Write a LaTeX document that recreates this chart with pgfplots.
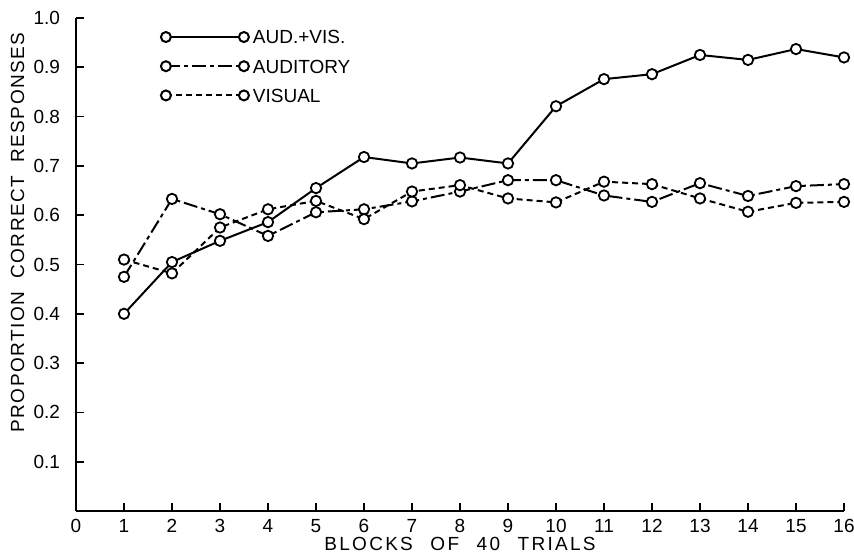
\documentclass[border=0pt]{standalone}
\usepackage{fontspec}
\setmainfont{Liberation Sans}
\usepackage{pgfplots}
\usepackage{pgfplotstable}
\pgfplotsset{compat=1.18}

% block, aud.+vis., auditory, visual
\pgfplotstableread{
x   audvis  aud    vis
1   0.400   0.475  0.510
2   0.505   0.633  0.482
3   0.548   0.602  0.575
4   0.586   0.558  0.612
5   0.655   0.606  0.629
6   0.718   0.612  0.592
7   0.705   0.628  0.648
8   0.717   0.648  0.661
9   0.705   0.671  0.634
10  0.821   0.671  0.626
11  0.876   0.640  0.668
12  0.886   0.627  0.663
13  0.925   0.665  0.634
14  0.915   0.639  0.607
15  0.937   0.659  0.625
16  0.920   0.663  0.627
}\datatable

\begin{document}
\begin{tikzpicture}[font=\fontsize{9.5}{11}\selectfont]
\begin{axis}[
    scale only axis,
    width=384pt, height=246.5pt,
    xmin=0, xmax=16, ymin=0, ymax=1,
    axis x line=bottom, axis y line=left,
    axis line style={-, line width=1pt},
    xtick={0,1,...,16},
    ytick={0.1,0.2,0.3,0.4,0.5,0.6,0.7,0.8,0.9,1.0},
    tick align=inside,
    major tick length=4pt,
    tick style={black, line width=0.8pt},
    /pgf/number format/assume math mode=true,
    yticklabel style={/pgf/number format/.cd, fixed, fixed zerofill, precision=1, /tikz/.cd, xshift=-4.5pt},
    xticklabel style={inner sep=0pt, text depth=0pt, yshift=-4pt},
    xlabel={\addfontfeature{LetterSpace=12}BLOCKS\hspace{5pt} OF\hspace{5pt} 40\hspace{5pt} TRIALS},
    xlabel style={at={(axis description cs:0.5,0)}, anchor=base, yshift=-19.6pt, inner sep=0pt},
    ylabel={\addfontfeature{LetterSpace=8}PROPORTION\hspace{3pt} CORRECT\hspace{3pt} RESPONSES},
    ylabel style={at={(axis description cs:-0.0674,0.565)}, anchor=base, rotate=0, inner sep=0pt},
    legend cell align=left,
    legend style={draw=none, fill=none, at={(axis cs:1.74,0.976)}, anchor=north west,
        inner sep=0pt, row sep=7.8pt,
        nodes={inner sep=0pt, text height=6.8pt, text depth=0pt},
        /tikz/every odd column/.append style={column sep=1.5pt},
        font=\fontsize{9.5}{11}\selectfont},
    legend image code/.code={
        \draw[#1] (0pt,0pt) -- (39pt,0pt);
        \draw[#1, solid, fill=white] (0pt,0pt) circle (2.5pt) (39pt,0pt) circle (2.5pt);
    },
]
\addplot[black, line width=1pt, mark=*, mark size=2.6pt,
    mark options={solid, fill=white, line width=0.9pt}]
    table[x=x, y=audvis] {\datatable};
\addlegendentry{AUD.+VIS.}
\addplot[black, line width=1pt, dash pattern=on 7pt off 2pt on 2pt off 2pt,
    mark=*, mark size=2.6pt, mark options={solid, fill=white, line width=0.9pt}]
    table[x=x, y=aud] {\datatable};
\addlegendentry{AUDITORY}
\addplot[black, line width=1pt, dash pattern=on 3pt off 2pt,
    mark=*, mark size=2.6pt, mark options={solid, fill=white, line width=0.9pt}]
    table[x=x, y=vis] {\datatable};
\addlegendentry{VISUAL}
\end{axis}
\pgfresetboundingbox
\path[use as bounding box] ([shift={(-38pt,-20.5pt)}]current axis.south west)
    rectangle ([shift={(5pt,9pt)}]current axis.north east);
\end{tikzpicture}
\end{document}
